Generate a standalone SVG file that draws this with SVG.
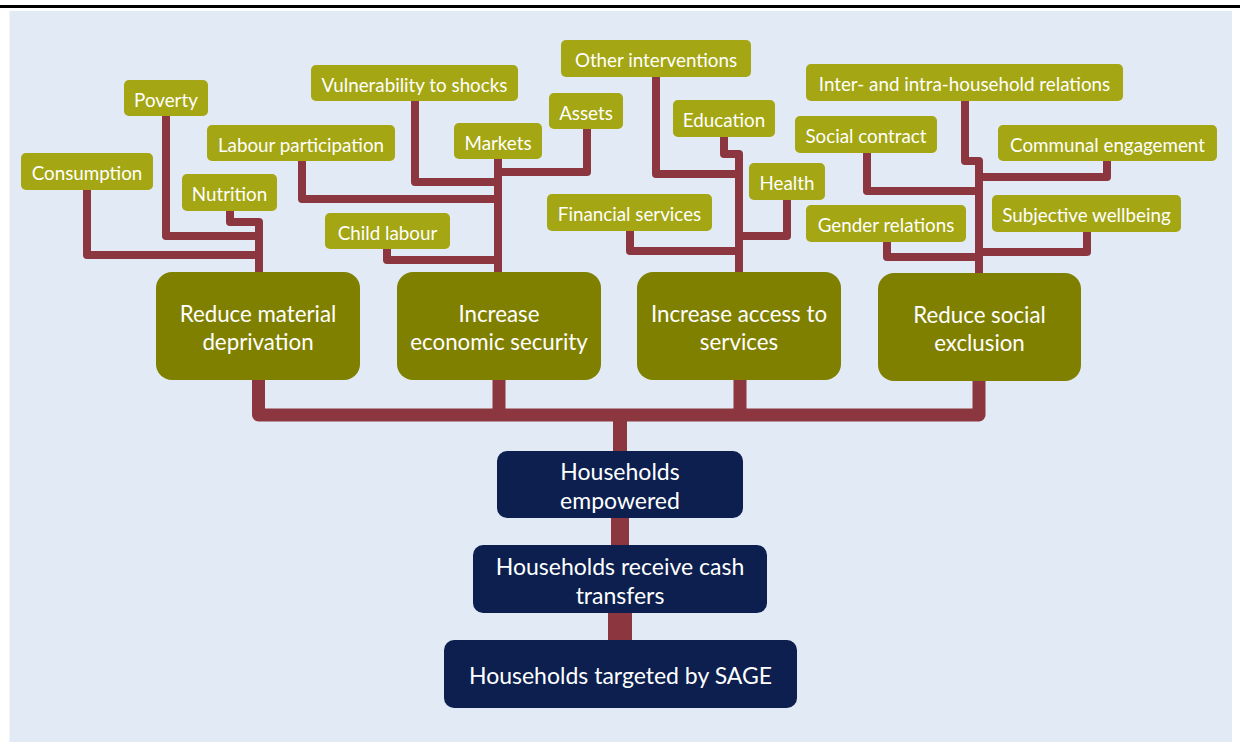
<svg xmlns="http://www.w3.org/2000/svg" width="1240" height="742" viewBox="0 0 1240 742">
  <style>
    .leaf rect { fill: #A4A613; }
    .goal rect { fill: #808000; }
    .base rect { fill: #0C1F4F; }
    text { font-family: "Lato", "Open Sans", sans-serif; fill: #FFFFFF; text-anchor: middle; dominant-baseline: central; }
    .leaf text { font-size: 18.8px; }
    .goal text { font-size: 22.3px; }
    .base text { font-size: 23px; }
    .wire { fill: none; stroke: #8C363F; stroke-linejoin: round; }
    .thin { stroke-width: 8; }
  </style>

  <!-- page rule and panel -->
  <rect x="0" y="5" width="1240" height="3" fill="#000000"/>
  <rect x="9.5" y="11" width="1222.5" height="731" fill="#E2EAF6"/>

  <!-- connectors -->
  <g id="connectors" class="wire">
    <!-- material deprivation branch -->
    <path class="thin" d="M87 189 V255 H259"/>
    <path class="thin" d="M166 116 V236 H259"/>
    <path class="thin" d="M230 211 V222 H259 V273"/>
    <!-- economic security branch -->
    <path class="thin" d="M498 159 V273"/>
    <path class="thin" d="M415 101 V182 H498"/>
    <path class="thin" d="M587 129 V172 H498"/>
    <path class="thin" d="M302 161 V199 H498"/>
    <path class="thin" d="M387 249 V260 H498"/>
    <!-- access to services branch -->
    <path class="thin" d="M724 137 V154 H739 V273"/>
    <path class="thin" d="M656 77 V174 H739"/>
    <path class="thin" d="M787 200 V236 H739"/>
    <path class="thin" d="M630 231 V251 H739"/>
    <!-- social exclusion branch -->
    <path class="thin" d="M965 101 V161 H979 V274"/>
    <path class="thin" d="M1107 161 V177 H979"/>
    <path class="thin" d="M867 153 V191 H979"/>
    <path class="thin" d="M1087 232 V252 H979"/>
    <path class="thin" d="M887 242 V257 H979"/>
    <!-- trunk -->
    <path stroke-width="13" d="M258.5 379 V415 H979 V380"/>
    <path stroke-width="13" d="M499 379 V415"/>
    <path stroke-width="13" d="M740 379 V415"/>
    <path stroke-width="14" d="M620 415 V452"/>
    <path stroke-width="18" d="M620 517 V546"/>
    <path stroke-width="24" d="M620 612 V641"/>
  </g>

  <!-- outcome leaves -->
  <g id="consumption" class="leaf"><rect x="21" y="153" width="132" height="37" rx="5"/><text x="87" y="172">Consumption</text></g>
  <g id="poverty" class="leaf"><rect x="124" y="80" width="84" height="36" rx="5"/><text x="166" y="99">Poverty</text></g>
  <g id="nutrition" class="leaf"><rect x="182" y="174" width="95" height="37" rx="5"/><text x="229.5" y="193">Nutrition</text></g>
  <g id="labour-participation" class="leaf"><rect x="207" y="125" width="188" height="36" rx="5"/><text x="301" y="144">Labour participation</text></g>
  <g id="vulnerability" class="leaf"><rect x="311" y="65" width="207" height="36" rx="5"/><text x="414.5" y="84">Vulnerability to shocks</text></g>
  <g id="markets" class="leaf"><rect x="454" y="123" width="88" height="36" rx="5"/><text x="498" y="142">Markets</text></g>
  <g id="assets" class="leaf"><rect x="549" y="93" width="74" height="36" rx="5"/><text x="586" y="112">Assets</text></g>
  <g id="child-labour" class="leaf"><rect x="325" y="213" width="125" height="36" rx="5"/><text x="387.5" y="232">Child labour</text></g>
  <g id="other-interventions" class="leaf"><rect x="561" y="40" width="190" height="37" rx="5"/><text x="656" y="59">Other interventions</text></g>
  <g id="education" class="leaf"><rect x="673" y="100" width="102" height="37" rx="5"/><text x="724" y="119">Education</text></g>
  <g id="health" class="leaf"><rect x="749" y="163" width="76" height="37" rx="5"/><text x="787" y="182">Health</text></g>
  <g id="financial-services" class="leaf"><rect x="547" y="194" width="165" height="37" rx="5"/><text x="629.5" y="213">Financial services</text></g>
  <g id="household-relations" class="leaf"><rect x="806" y="64" width="317" height="37" rx="5"/><text x="964.5" y="83">Inter- and intra-household relations</text></g>
  <g id="social-contract" class="leaf"><rect x="795" y="116" width="142" height="37" rx="5"/><text x="866" y="135">Social contract</text></g>
  <g id="communal-engagement" class="leaf"><rect x="998" y="125" width="219" height="36" rx="5"/><text x="1107.5" y="144">Communal engagement</text></g>
  <g id="gender-relations" class="leaf"><rect x="806" y="205" width="160" height="37" rx="5"/><text x="886" y="224">Gender relations</text></g>
  <g id="subjective-wellbeing" class="leaf"><rect x="992" y="195" width="189" height="37" rx="5"/><text x="1086.5" y="214">Subjective wellbeing</text></g>

  <!-- goals -->
  <g id="reduce-deprivation" class="goal"><rect x="156" y="272" width="204" height="108" rx="16"/><text x="258" y="313">Reduce material</text><text x="258" y="341">deprivation</text></g>
  <g id="economic-security" class="goal"><rect x="397" y="272" width="204" height="108" rx="16"/><text x="499" y="313">Increase</text><text x="499" y="341">economic security</text></g>
  <g id="access-services" class="goal"><rect x="637" y="272" width="204" height="108" rx="16"/><text x="739" y="313">Increase access to</text><text x="739" y="341">services</text></g>
  <g id="social-exclusion" class="goal"><rect x="878" y="273" width="203" height="108" rx="16"/><text x="979.5" y="314">Reduce social</text><text x="979.5" y="342">exclusion</text></g>

  <!-- base of the tree -->
  <g id="empowered" class="base"><rect x="497" y="451" width="246" height="67" rx="10"/><text x="620" y="471">Households</text><text x="620" y="500">empowered</text></g>
  <g id="cash-transfers" class="base"><rect x="473" y="545" width="294" height="68" rx="10"/><text x="620" y="566">Households receive cash</text><text x="620" y="595">transfers</text></g>
  <g id="targeted" class="base"><rect x="444" y="640" width="353" height="68" rx="10"/><text x="620.5" y="675">Households targeted by SAGE</text></g>
</svg>
